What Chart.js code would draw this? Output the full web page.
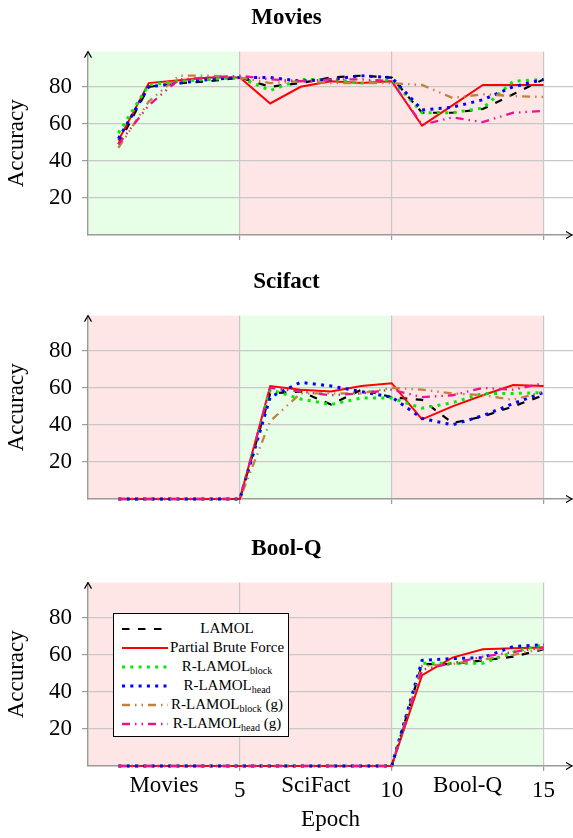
<!DOCTYPE html>
<html>
<head>
<meta charset="utf-8">
<script src="https://cdn.jsdelivr.net/npm/chart.js@4/dist/chart.umd.min.js"></script>
<style>
html,body{margin:0;padding:0;background:#fff;}
body{width:573px;height:838px;position:relative;overflow:hidden;font-family:"Liberation Serif","Times New Roman",serif;}
canvas.c{position:absolute;left:0;}
#legend{position:absolute;left:113px;top:613px;width:176px;height:124px;box-sizing:border-box;border:1.5px solid #000;background:#fff;padding-top:5px;}
#legend .row{display:flex;align-items:center;height:19px;}
#legend svg{margin-left:8px;flex:none;}
#legend .txt{flex:1;text-align:center;font-size:15px;line-height:19px;color:#000;white-space:nowrap;padding-right:2px;}
#legend sub{font-size:10px;vertical-align:-3px;line-height:0;}
</style>
</head>
<body>
<canvas class="c" id="c1" width="573" height="264" style="top:0px"></canvas>
<canvas class="c" id="c2" width="573" height="264" style="top:264px"></canvas>
<canvas class="c" id="c3" width="573" height="307" style="top:531px"></canvas>
<div id="legend"></div>
<script>
// ---------------- data ----------------
const epochs = [1,2,3,4,5,6,7,8,9,10,11,12,13,14,15];
const yTicks = [20,40,60,80];
const xGridTicks = [5,10,15];
const xTickValues = [2.5,5,7.5,10,12.5,15];
const xTickLabels = ['Movies','5','SciFact','10','Bool-Q','15'];
const phaseBounds = [0,5,10,15];

const seriesNames = ['LAMOL','Partial Brute Force','R-LAMOL','R-LAMOL','R-LAMOL','R-LAMOL'];
const seriesSubs = ['','','block','head','block','head'];
const seriesSuffix = ['','','','',' (g)',' (g)'];

const chartTitles = ['Movies','Scifact','Bool-Q'];
const shadeMovies = ['g','r','r'];
const shadeScifact = ['r','g','r'];
const shadeBoolq = ['r','r','g'];

const moviesLAMOL  = [49,80,82,83,85,80,82,85,86,85,66,66,68,76,84];
const moviesPBF    = [51,82,83.5,85,85,71,80,83,82,83,59,70,81,81,81];
const moviesBlock  = [55,81,83,84,85,78,84,84,82,84,66,66,68.5,83,84];
const moviesHead   = [52,80,82,84,85,85,83,84,86,85,67.5,69,73,80,84];
const moviesBlockG = [47,72,86,86,85,82,83,82,82,82,81,74,76,75,74.5];
const moviesHeadG  = [49,70,84,85,86,84,83,84,84,83,59.5,63.5,61,66,67];

const sciLAMOL  = [0,0,0,0,0,57,58,51,59,55,53.5,41,44.5,50,56];
const sciPBF    = [0,0,0,0,0,61,59,58,61,62.5,43,50,56,61.5,61];
const sciBlock  = [0,0,0,0,0,59,54,51,54.5,54.5,49,52,57,57,57.5];
const sciHead   = [0,0,0,0,0,55,63,61,58,55,43.5,40,45,51.5,57.5];
const sciBlockG = [0,0,0,0,0,42,57,57,57,60,59,57,56,53.5,58];
const sciHeadG  = [0,0,0,0,0,60,58,56,57,59,55,56,60,59,62.5];

const boolLAMOL  = [0,0,0,0,0,0,0,0,0,0,55,55,57,59,63];
const boolPBF    = [0,0,0,0,0,0,0,0,0,0,49,58.5,63,63.5,64];
const boolBlock  = [0,0,0,0,0,0,0,0,0,0,55.5,55.5,55.5,61.5,65.5];
const boolHead   = [0,0,0,0,0,0,0,0,0,0,57,58,58.5,64.5,65.5];
const boolBlockG = [0,0,0,0,0,0,0,0,0,0,54,55,57.5,60,63.5];
const boolHeadG  = [0,0,0,0,0,0,0,0,0,0,52,55.5,59,61.5,64];

// ---------------- styles ----------------
const FONT = "'Liberation Serif','Times New Roman',serif";
const GREEN_BG = 'rgb(230,255,230)';
const RED_BG = 'rgb(255,230,230)';
const GRID = '#c8c8c8';
const AXIS = '#9a9a9a';
const seriesColors = ['#000000','rgb(255,0,0)','rgb(0,235,0)','rgb(0,0,255)','rgb(191,128,64)','rgb(235,20,140)'];
const seriesDash = [[7.5,8.5],[],[3,5.3],[3,5.3],[8,5,1.5,5,1.5,5],[8,5,1.5,5,1.5,5]];
const seriesWidth = [2.2,2,3,3,2.3,2.3];

// ---------------- plugins ----------------
const shadePlugin = {
  id: 'shade',
  beforeDraw(chart, args, opts) {
    const {ctx, chartArea, scales} = chart;
    const x = scales.x;
    ctx.save();
    (opts.regions || []).forEach((c, i) => {
      const x0 = x.getPixelForValue(phaseBounds[i]);
      const x1 = x.getPixelForValue(phaseBounds[i+1]);
      ctx.fillStyle = c === 'g' ? GREEN_BG : RED_BG;
      ctx.fillRect(x0, chartArea.top, x1 - x0, chartArea.bottom - chartArea.top);
    });
    ctx.restore();
  }
};
const arrowPlugin = {
  id: 'arrows',
  afterDraw(chart) {
    const {ctx, chartArea} = chart;
    ctx.save();
    ctx.strokeStyle = '#000';
    ctx.lineWidth = 1.2;
    ctx.lineJoin = 'round';
    const xr = chartArea.right - 1, yb = chartArea.bottom;
    ctx.beginPath();
    ctx.moveTo(xr - 6, yb - 3.5); ctx.lineTo(xr, yb); ctx.lineTo(xr - 6, yb + 3.5);
    ctx.stroke();
    const xl = chartArea.left, yt = chartArea.top;
    ctx.beginPath();
    ctx.moveTo(xl - 3.5, yt + 6); ctx.lineTo(xl, yt); ctx.lineTo(xl + 3.5, yt + 6);
    ctx.stroke();
    ctx.restore();
  }
};

function makeChart(id, title, series, regions, bottom) {
  const datasets = series.map((arr, i) => ({
    label: seriesNames[i] + (seriesSubs[i] ? '_' + seriesSubs[i] : '') + seriesSuffix[i],
    data: epochs.map((e, k) => ({x: e, y: arr[k]})),
    borderColor: seriesColors[i],
    backgroundColor: seriesColors[i],
    borderDash: seriesDash[i],
    borderWidth: seriesWidth[i],
    pointRadius: 0,
    fill: false,
    tension: 0,
    order: series.length - 1 - i,
    clip: 6
  }));
  const isGrid = v => xGridTicks.indexOf(v) >= 0;
  return new Chart(document.getElementById(id), {
    type: 'line',
    data: {datasets},
    plugins: [shadePlugin, arrowPlugin],
    options: {
      responsive: false,
      devicePixelRatio: 1,
      animation: false,
      layout: {padding: {left: 0, right: 0, top: 0, bottom: 0}},
      plugins: {
        legend: {display: false},
        tooltip: {enabled: false},
        title: {display: true, text: title, color: '#000',
                font: {family: FONT, size: 23, weight: 'bold', lineHeight: 1.2},
                padding: {top: 4, bottom: 20}},
        shade: {regions}
      },
      scales: {
        x: {
          type: 'linear', min: 0, max: 15.97,
          afterBuildTicks: s => { s.ticks = (bottom ? xTickValues : xGridTicks).map(v => ({value: v})); },
          afterFit: s => { s.height = bottom ? 72 : 29; },
          ticks: {
            display: bottom, autoSkip: false, maxRotation: 0, minRotation: 0, padding: 1, color: '#000',
            callback: (v, i) => bottom ? xTickLabels[i] : '',
            font: ctx => ({family: FONT, size: 23,
                           lineHeight: (ctx.tick && isGrid(ctx.tick.value)) ? 1.63 : 1.2})
          },
          grid: {
            color: ctx => (ctx.tick && isGrid(ctx.tick.value)) ? GRID : 'rgba(0,0,0,0)',
            tickColor: ctx => (ctx.tick && isGrid(ctx.tick.value)) ? AXIS : 'rgba(0,0,0,0)',
            lineWidth: 1.2, tickLength: 5, drawTicks: true
          },
          border: {display: true, color: AXIS, width: 1.4},
          title: {display: bottom, text: 'Epoch', color: '#000',
                  font: {family: FONT, size: 23, lineHeight: 1.2}, padding: {top: 0, bottom: 4}}
        },
        y: {
          type: 'linear', min: 0, max: 99,
          afterBuildTicks: s => { s.ticks = yTicks.map(v => ({value: v})); },
          afterFit: s => { s.width = 88; },
          ticks: {font: {family: FONT, size: 23}, color: '#000', padding: 10},
          grid: {color: GRID, lineWidth: 1.2, tickLength: 6, tickColor: AXIS, drawTicks: true},
          border: {display: true, color: AXIS, width: 1.4},
          title: {display: true, text: 'Accuracy', color: '#000',
                  font: {family: FONT, size: 23, lineHeight: 1.2}, padding: {top: 3, bottom: 0}}
        }
      }
    }
  });
}

const ch1 = makeChart('c1', chartTitles[0],
  [moviesLAMOL, moviesPBF, moviesBlock, moviesHead, moviesBlockG, moviesHeadG], shadeMovies, false);
const ch2 = makeChart('c2', chartTitles[1],
  [sciLAMOL, sciPBF, sciBlock, sciHead, sciBlockG, sciHeadG], shadeScifact, false);
const ch3 = makeChart('c3', chartTitles[2],
  [boolLAMOL, boolPBF, boolBlock, boolHead, boolBlockG, boolHeadG], shadeBoolq, true);

// ---------------- HTML legend built from the chart datasets ----------------
(function buildLegend() {
  const leg = document.getElementById('legend');
  ch3.data.datasets.forEach((ds, i) => {
    const row = document.createElement('div');
    row.className = 'row';
    const dash = (ds.borderDash || []).join(' ');
    row.innerHTML =
      '<svg width="46" height="8"><line x1="0" y1="4" x2="46" y2="4" stroke="' + ds.borderColor +
      '" stroke-width="' + ds.borderWidth + '"' + (dash ? ' stroke-dasharray="' + dash + '"' : '') + '/></svg>' +
      '<span class="txt">' + seriesNames[i] + (seriesSubs[i] ? '<sub>' + seriesSubs[i] + '</sub>' : '') +
      seriesSuffix[i] + '</span>';
    leg.appendChild(row);
  });
})();
</script>
</body>
</html>
